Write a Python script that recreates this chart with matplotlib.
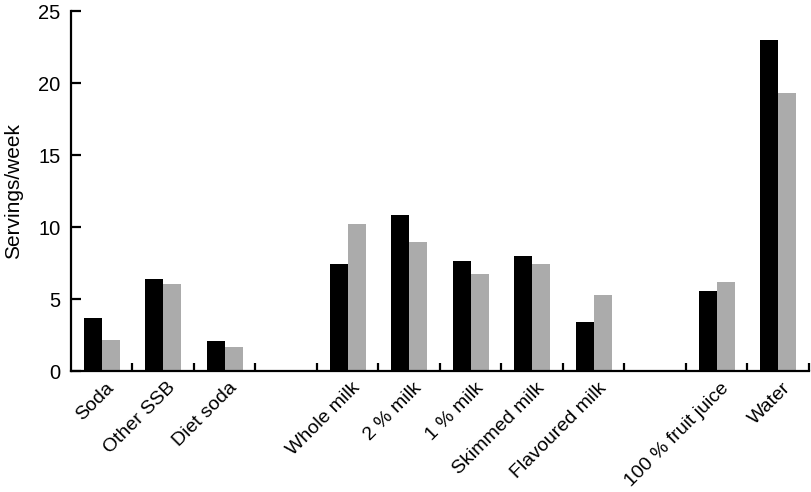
import numpy as np
import matplotlib
matplotlib.use('Agg')
import matplotlib.pyplot as plt
import matplotlib.transforms as mtransforms

# beverage groups (a blank slot is left between groups)
SSB_DRINKS = ['Soda', 'Other SSB', 'Diet soda']
MILK_DRINKS = ['Whole milk', '2 % milk', '1 % milk', 'Skimmed milk', 'Flavoured milk']
OTHER_DRINKS = ['100 % fruit juice', 'Water']

# servings/week, first (black) and second (grey) series
SERIES_BLACK = [3.66, 6.37, 2.08, 7.41, 10.85, 7.64, 8.01, 3.40, 5.53, 22.96]
SERIES_GREY = [2.15, 6.06, 1.69, 10.21, 8.96, 6.76, 7.41, 5.28, 6.16, 19.28]

YTICKS = [0, 5, 10, 15, 20, 25]

plt.rcParams['font.family'] = ['Liberation Sans', 'DejaVu Sans']


def slot_positions(groups):
    pos = []
    labels = []
    x = 0
    for g in groups:
        for name in g:
            pos.append(x)
            labels.append(name)
            x += 1
        x += 1  # empty slot between groups
    return np.array(pos), labels, x - 1


pos, labels, n_slots = slot_positions([SSB_DRINKS, MILK_DRINKS, OTHER_DRINKS])

fig = plt.figure(figsize=(8.12, 4.92), dpi=100)
ax = fig.add_axes([0.0874, 0.2459, 0.9089, 0.7317])

width = 0.293
ax.bar(pos - width / 2, SERIES_BLACK, width=width, color='black', linewidth=0)
ax.bar(pos + width / 2, SERIES_GREY, width=width, color='#ababab', linewidth=0)

ax.set_xlim(-0.5, n_slots - 0.5)
ax.set_ylim(0, 25)
ax.set_yticks(YTICKS)
ax.set_yticklabels([str(v) for v in YTICKS], fontsize=14.5)

for side in ['top', 'right']:
    ax.spines[side].set_visible(False)
for side in ['left', 'bottom']:
    ax.spines[side].set_linewidth(1.6)

ax.tick_params(axis='y', direction='in', length=7.5, width=1.6, pad=7.5)
ax.set_xticks(pos)
ax.set_xticks(np.arange(n_slots) + 0.5, minor=True)
ax.tick_params(axis='x', which='major', length=0, pad=6)
ax.tick_params(axis='x', which='minor', direction='in', length=6, width=1.6)
ax.set_xticklabels(labels, rotation=45, ha='right', va='top',
                   rotation_mode='anchor', fontsize=14)
offset = mtransforms.ScaledTranslation(4 / 100, 0, fig.dpi_scale_trans)
for lbl in ax.get_xticklabels():
    lbl.set_transform(lbl.get_transform() + offset)

ax.set_ylabel('Servings/week', fontsize=15, labelpad=11)

fig.savefig('out.png', dpi=100)
